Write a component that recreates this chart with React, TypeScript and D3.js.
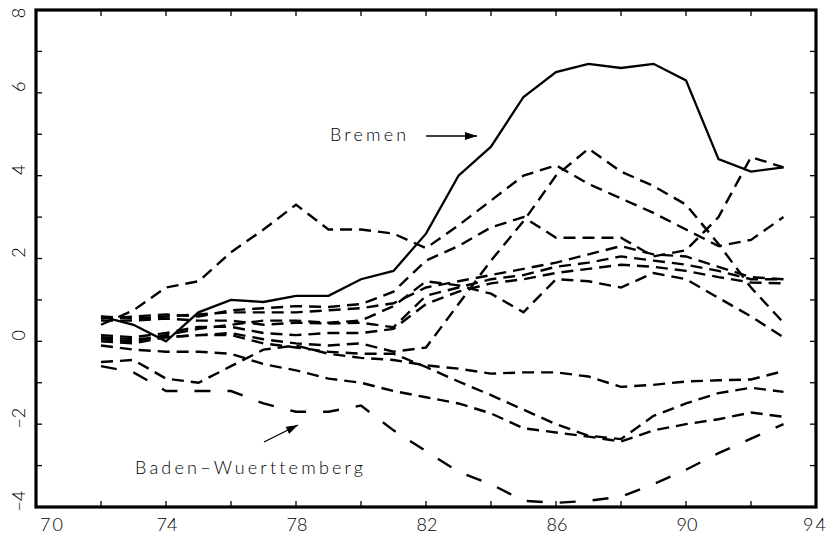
import React from 'react';
import * as d3 from 'd3';

// years 1972..1993
const years = d3.range(72, 94);

const bremen = [0.6, 0.4, 0.0, 0.7, 1.0, 0.95, 1.1, 1.1, 1.5, 1.7, 2.6, 4.0, 4.7, 5.9, 6.5, 6.7, 6.6, 6.7, 6.3, 4.4, 4.1, 4.2];
const badenW = [-0.6, -0.75, -1.2, -1.2, -1.2, -1.5, -1.7, -1.7, -1.55, -2.15, -2.65, -3.15, -3.45, -3.85, -3.9, -3.85, -3.75, -3.45, -3.1, -2.7, -2.35, -2.0];

// the other Laender, short dashes
const others = [
  [0.4, 0.75, 1.3, 1.45, 2.15, 2.7, 3.3, 2.7, 2.7, 2.6, 2.25, 2.8, 3.4, 4.0, 4.25, 3.8, 3.45, 3.1, 2.7, 2.3, 2.45, 3.0],
  [0.1, 0.05, 0.1, 0.15, 0.2, 0.05, -0.05, -0.1, -0.05, -0.25, -0.15, 0.9, 1.95, 2.9, 4.0, 4.65, 4.1, 3.75, 3.3, 2.35, 1.3, 0.45],
  [0.55, 0.6, 0.65, 0.6, 0.75, 0.8, 0.85, 0.83, 0.9, 1.2, 1.95, 2.3, 2.75, 3.0, 2.5, 2.5, 2.5, 2.05, 2.2, 3.0, 4.45, 4.2],
  [0.6, 0.55, 0.6, 0.65, 0.7, 0.7, 0.7, 0.75, 0.8, 0.92, 1.3, 1.45, 1.6, 1.75, 1.9, 2.1, 2.3, 2.1, 2.05, 1.8, 1.55, 1.5],
  [0.5, 0.5, 0.55, 0.5, 0.5, 0.4, 0.45, 0.43, 0.45, 0.34, 1.1, 1.3, 1.5, 1.6, 1.8, 1.9, 2.05, 1.95, 1.85, 1.7, 1.5, 1.5],
  [0.15, 0.1, 0.2, 0.35, 0.35, 0.2, 0.15, 0.2, 0.2, 0.3, 0.9, 1.2, 1.4, 1.5, 1.65, 1.75, 1.85, 1.8, 1.7, 1.55, 1.42, 1.4],
  [0.05, 0.0, 0.15, 0.3, 0.4, 0.5, 0.5, 0.45, 0.5, 0.85, 1.45, 1.35, 1.15, 0.7, 1.5, 1.45, 1.3, 1.65, 1.5, 1.05, 0.6, 0.1],
  [-0.5, -0.45, -0.9, -1.0, -0.6, -0.2, -0.1, -0.3, -0.4, -0.45, -0.58, -0.66, -0.78, -0.75, -0.75, -0.85, -1.1, -1.05, -0.97, -0.94, -0.92, -0.72],
  [0.0, -0.05, 0.1, 0.15, 0.15, -0.05, -0.15, -0.25, -0.3, -0.3, -0.62, -0.97, -1.3, -1.65, -2.0, -2.28, -2.36, -1.8, -1.5, -1.25, -1.12, -1.22],
  [-0.1, -0.2, -0.25, -0.25, -0.3, -0.55, -0.7, -0.9, -1.0, -1.2, -1.35, -1.5, -1.74, -2.1, -2.2, -2.3, -2.42, -2.15, -2.0, -1.88, -1.72, -1.82],
];

const xTickLabels = [70, 74, 78, 82, 86, 90, 94];
const yTickLabels = [8, 6, 4, 2, 0, -2, -4];

const W = 829, H = 539;
const m = { left: 36, right: 13, top: 10, bottom: 32 };
const font = 'Lato, "DejaVu Sans", sans-serif';

export default function App() {
  const x = d3.scaleLinear().domain([70, 94]).range([m.left, W - m.right]);
  const y = d3.scaleLinear().domain([-4, 8]).range([H - m.bottom, m.top]);
  const line = d3.line<number>().x((_, i) => x(years[i])).y((d) => y(d));

  const xTicks = d3.range(70, 95, 2);
  const yTicks = d3.range(-4, 9, 1);
  const tl = 6;
  const fmt = (v: number) => (v < 0 ? '\u2212' + Math.abs(v) : String(v));

  return (
    <svg width={W} height={H} style={{ position: 'absolute', left: 0, top: 0, background: '#fff' }}>
      <defs>
        <marker id="ah" viewBox="0 0 12 8" refX="12" refY="4" markerWidth="12" markerHeight="8"
          markerUnits="userSpaceOnUse" orient="auto">
          <path d="M0,0 L12,4 L0,8 Z" fill="#000" />
        </marker>
      </defs>

      {others.map((s, i) => (
        <path key={i} d={line(s) || ''} fill="none" stroke="#000" strokeWidth={2.4} strokeDasharray="12,7" />
      ))}
      <path d={line(badenW) || ''} fill="none" stroke="#000" strokeWidth={2.4} strokeDasharray="16,17" />
      <path d={line(bremen) || ''} fill="none" stroke="#000" strokeWidth={2.3} />

      {/* ticks on all four sides, pointing inward */}
      {xTicks.map((t) => (
        <g key={'x' + t} stroke="#000" strokeWidth={1.3}>
          <line x1={x(t)} x2={x(t)} y1={y(-4)} y2={y(-4) - tl} />
          <line x1={x(t)} x2={x(t)} y1={y(8)} y2={y(8) + tl} />
        </g>
      ))}
      {yTicks.map((t) => (
        <g key={'y' + t} stroke="#000" strokeWidth={1.3}>
          <line x1={x(70)} x2={x(70) + tl} y1={y(t)} y2={y(t)} />
          <line x1={x(94)} x2={x(94) - tl} y1={y(t)} y2={y(t)} />
        </g>
      ))}
      <rect x={x(70)} y={y(8)} width={x(94) - x(70)} height={y(-4) - y(8)} fill="none" stroke="#000" strokeWidth={3.2} />

      {xTickLabels.map((t, i) => {
        const first = i === 0, last = i === xTickLabels.length - 1;
        return (
          <text key={'xl' + t} x={first ? x(t) + 4 : last ? W - 1 : x(t) + 1} y={H - 8}
            textAnchor={first ? 'start' : last ? 'end' : 'middle'}
            fontFamily={font} fontWeight={300} fontSize={18} letterSpacing={first || last ? 2 : 0}>
            {fmt(t)}
          </text>
        );
      })}
      {yTickLabels.map((t) => {
        const cy = Math.max(y(t) - 6, 13);
        return (
          <text key={'yl' + t} transform={`translate(25,${cy}) rotate(-90)`} textAnchor="middle"
            fontFamily={font} fontWeight={300} fontSize={18}>
            {fmt(t)}
          </text>
        );
      })}

      <text x={330} y={141} fontFamily={font} fontWeight={300} fontSize={18} letterSpacing={3.2}>Bremen</text>
      <line x1={426} y1={136} x2={477} y2={136} stroke="#000" strokeWidth={1.3} markerEnd="url(#ah)" />

      <text x={135} y={474} fontFamily={font} fontWeight={300} fontSize={18} letterSpacing={3.2}>{'Baden\u2212Wuerttemberg'}</text>
      <line x1={264} y1={442} x2={298} y2={425} stroke="#000" strokeWidth={1.3} markerEnd="url(#ah)" />
    </svg>
  );
}
